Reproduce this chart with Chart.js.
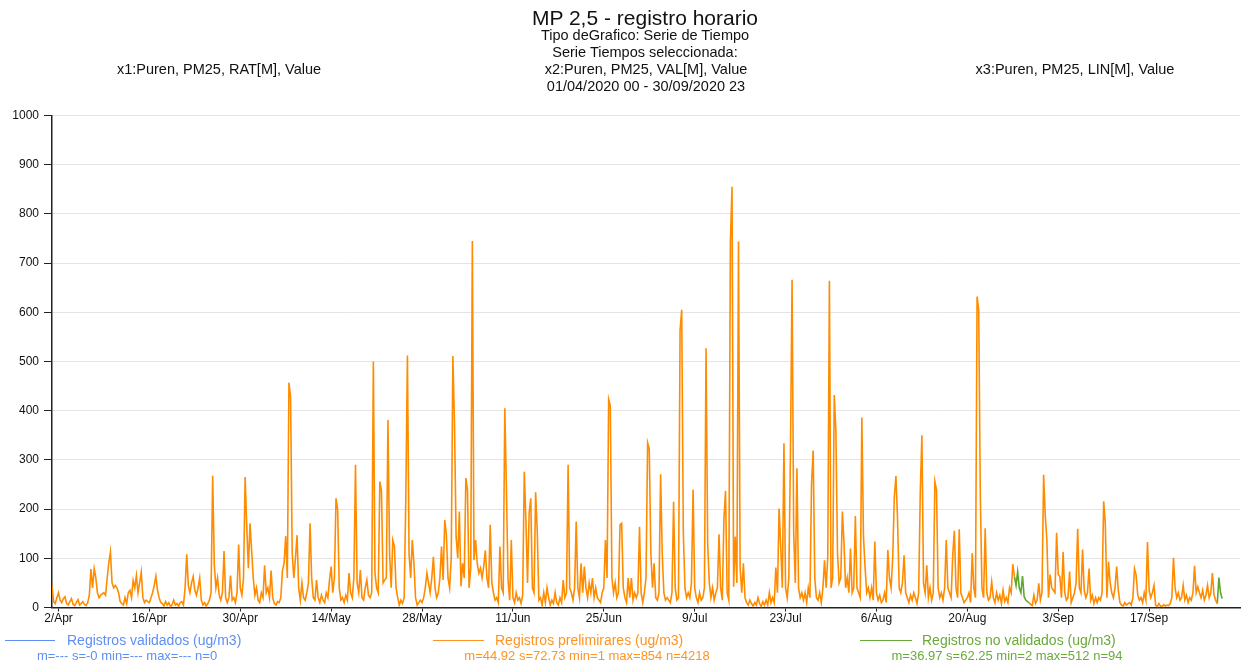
<!DOCTYPE html>
<html>
<head>
<meta charset="utf-8">
<script src="https://cdn.jsdelivr.net/npm/chart.js@4.4.1/dist/chart.umd.min.js"></script>
<style>
  body { margin: 0; background: #fff; }
  #wrap { position: relative; width: 1246px; height: 662px; font-family: 'Liberation Sans', Arial, sans-serif; }
  canvas { position: absolute; left: 0; top: 0; }
  .t { position: absolute; white-space: nowrap; transform: translate(-50%, -50%); color: #111; font-size: 14.5px; }
  .lg { position: absolute; white-space: nowrap; transform: translateY(-50%); font-size: 14px; }
  .ln { position: absolute; height: 0; border-top: 1.5px solid; }
  .st { position: absolute; white-space: nowrap; transform: translate(-50%, -50%); font-size: 13px; }
</style>
</head>
<body>
<div id="wrap">
  <canvas id="pmChart" width="1246" height="662"></canvas>

  <div class="t" style="left:645px; top:18px; font-size:21px;">MP 2,5 - registro horario</div>
  <div class="t" style="left:645px; top:35px;">Tipo deGrafico: Serie de Tiempo</div>
  <div class="t" style="left:645px; top:52px;">Serie Tiempos seleccionada:</div>
  <div class="t" style="left:219px; top:69px;">x1:Puren, PM25, RAT[M], Value</div>
  <div class="t" style="left:646px; top:69px;">x2:Puren, PM25, VAL[M], Value</div>
  <div class="t" style="left:1075px; top:69px;">x3:Puren, PM25, LIN[M], Value</div>
  <div class="t" style="left:646px; top:86px;">01/04/2020 00 - 30/09/2020 23</div>

  <div class="ln" style="left:5px; top:640px; width:50px; color:#5f8ff5;"></div>
  <div class="lg" style="left:67px; top:640px; color:#5f8ff5;">Registros validados (ug/m3)</div>
  <div class="st" style="left:127px; top:655px; color:#5f8ff5;">m=--- s=-0 min=--- max=--- n=0</div>

  <div class="ln" style="left:433px; top:640px; width:51px; color:#ff9422;"></div>
  <div class="lg" style="left:495px; top:640px; color:#ff9422;">Registros prelimirares (ug/m3)</div>
  <div class="st" style="left:587px; top:655px; color:#ff9422;">m=44.92 s=72.73 min=1 max=854 n=4218</div>

  <div class="ln" style="left:860px; top:640px; width:52px; color:#6aaa3a;"></div>
  <div class="lg" style="left:922px; top:640px; color:#6aaa3a;">Registros no validados (ug/m3)</div>
  <div class="st" style="left:1007px; top:655px; color:#6aaa3a;">m=36.97 s=62.25 min=2 max=512 n=94</div>
</div>

<script>
// MP 2,5 Puren, 01/04/2020 - 30/09/2020, every 6 hours (00, 06, 12, 18)
const rangeStart = '2020-04-01';
const rangeEnd = '2020-10-01';
const stepHours = 6;

const tickDates = ['2020-04-02', '2020-04-16', '2020-04-30', '2020-05-14', '2020-05-28', '2020-06-11',
    '2020-06-25', '2020-07-09', '2020-07-23', '2020-08-06', '2020-08-20', '2020-09-03', '2020-09-17'];
const tickLabels = ['2/Apr', '16/Apr', '30/Apr', '14/May', '28/May', '11/Jun',
    '25/Jun', '9/Jul', '23/Jul', '6/Aug', '20/Aug', '3/Sep', '17/Sep'];

// Registros preliminares (orange)
const aprValues = [
    45, 12, 8, 20,   30, 15, 10, 18,   22, 8, 5, 12,   18, 6, 4, 10,   16, 5, 8, 12,   6, 4, 10, 25,   78, 40, 79, 60,
    30, 20, 25, 28,  30, 25, 60, 91,   113, 50, 40, 45, 40, 30, 12, 8,  5, 20, 8, 30,   35, 20, 55, 40, 65, 30, 50, 72,
    20, 10, 15, 12,  10, 20, 30, 45,   64, 35, 20, 10,  8, 3, 12, 5,    10, 2, 6, 15,   5, 8, 3, 10,    12, 5, 40, 108,
    45, 30, 50, 63,  35, 25, 40, 60,   15, 5, 10, 3,    8, 15, 30, 268, 87, 40, 60, 25, 15, 30, 115, 20, 10, 20, 65, 15,
    20, 10, 30, 128, 40, 25, 60, 265
];
const mayValues = [
    164, 80, 171, 116, 60, 25, 40, 15,  10, 30, 20, 86,   30, 40, 20, 75,   20, 8, 5, 12,    10, 20, 75, 90,
    145, 60, 457, 427, 110, 60, 100, 147, 40, 15, 50, 20, 15, 30, 50, 171,  60, 20, 15, 56,  20, 10, 25, 15,
    10, 30, 20, 56,   83, 30, 60, 222,  199, 40, 15, 20,  10, 25, 15, 70,   30, 20, 60, 290, 50, 30, 76, 20,
    15, 40, 56, 25,   20, 30, 500, 70,  40, 30, 256, 237, 50, 56, 60, 381,  110, 40, 137, 124, 40, 20, 5, 15,
    8, 20, 222, 512,  110, 60, 137, 90, 20, 5, 10, 15,    10, 20, 40, 70,   50, 30, 60, 103, 40, 20, 30, 60,
    124, 56, 178, 148
];
const junValues = [
    60, 40, 100, 511, 374, 144, 100, 195, 43, 90, 60, 263, 239, 40, 80, 745, 96, 137, 90, 70, 80, 60, 83, 116,
    60, 40, 168, 50,  30, 15, 20, 10,     124, 40, 30, 405, 242, 56, 15, 137, 20, 10, 30, 15,  20, 8, 25, 276,
    178, 50, 192, 222, 40, 30, 234, 154,  15, 20, 5, 30,   10, 40, 20, 5,    15, 8, 30, 10,   5, 20, 10, 56,
    20, 30, 290, 40,  30, 15, 40, 175,    40, 20, 90, 30,  83, 40, 20, 50,   30, 60, 20, 40,  20, 15, 10, 30,
    40, 137, 60, 423, 410, 60, 30, 50,    20, 30, 168, 171, 40, 20, 10, 60,  20, 60, 15, 30,  20, 30, 164, 30
];
const julValues = [
    10, 30, 60, 335,  323, 110, 40, 90,  20, 15, 30, 271,  110, 30, 15, 20,  15, 10, 30, 215, 40, 15, 20, 564,
    605, 151, 40, 20, 30, 20, 50, 240,   40, 20, 10, 30,   15, 20, 40, 527,  130, 50, 20, 40, 15, 30, 40, 149,
    40, 15, 178, 237, 30, 15, 744, 855,  42, 144, 50, 744, 80, 30, 90, 20,   10, 5, 15, 8,    3, 10, 5, 20,
    8, 2, 12, 5,      15, 5, 30, 10,     20, 10, 81, 30,   201, 125, 40, 334, 40, 20, 60, 313, 666, 151, 50, 283,
    40, 20, 30, 15,   30, 10, 40, 20,    252, 319, 60, 20, 15, 30, 10, 40,   96, 40, 103, 664, 40, 60, 432, 358,
    110, 50, 60, 195
];
const augValues = [
    131, 40, 60, 30,  120, 30, 40, 186,  40, 30, 20, 386,  144, 80, 30, 40,  20, 40, 15, 134, 30, 15, 25, 10,
    15, 30, 10, 117,  60, 40, 100, 225,  267, 178, 40, 30, 50, 106, 30, 20,  10, 25, 15, 30,  20, 8, 30, 235,
    350, 50, 30, 86,  20, 40, 15, 30,    256, 239, 40, 20, 30, 15, 40, 137,  40, 30, 20, 107, 156, 40, 20, 159,
    30, 20, 10, 15,   20, 30, 10, 110,   40, 20, 632, 605, 226, 40, 20, 161, 30, 15, 20, 52,  20, 10, 30, 15,
    25, 8, 35, 12,    20, 10, 40, 30,    88, 63, null, null, null, null, null, null, null, null, 10, 6,
    4, 25, 8, 15,     49, 15, 30, 270
];
const sepValues = [
    187, 137, 20, 67, 40, 35, 30, 152,   67, 63, 20, 113,  30, 15, 20, 73,   10, 20, 30, 50,  160, 40, 30, 118,
    35, 20, 30, 79,   15, 25, 8, 20,     10, 20, 15, 30,   216, 171, 20, 93, 50, 30, 20, 40,  83, 35, 10, 5,
    3, 10, 5, 8,      10, 5, 20, 79,     66, 25, 15, 20,   10, 30, 15, 133,  35, 20, 30, 45,  5, 2, 8, 3,
    2, 6, 3, 5,       4, 8, 20, 101,     40, 20, 30, 15,   20, 45, 15, 25,   10, 20, 15, 30,  85, 30, 42, 30,
    20, 35, 15, 25,   45, 20, 30, 70,    25, 15, 8, null,  null, null, null, null, null, null, null, null,
    null, null, null, null
];

// Registros no validados (green)
const noValidAugStart = '2020-08-27 06:00';
const noValidAugValues = [63, 45, 73, 40, 30, 64, 22, 15, 12, 10];
const noValidSepStart = '2020-09-27 12:00';
const noValidSepValues = [8, 61, 30, 18];

// Registros validados (blue) - no data
const validValues = [];

function hoursFrom(s) {
    const t = s.length === 10 ? s + 'T00:00:00Z' : s.replace(' ', 'T') + ':00Z';
    return (Date.parse(t) - Date.parse(rangeStart + 'T00:00:00Z')) / 3600000;
}

function toPoints(values, startHour) {
    return values.map((v, i) => ({ x: startHour + i * stepHours, y: v }));
}

const prelimValues = [].concat(aprValues, mayValues, junValues, julValues, augValues, sepValues);

buildChart();

function buildChart() {
    const ctx = document.getElementById('pmChart');
    new Chart(ctx, {
        type: 'line',
        data: {
            datasets: [
                {
                    label: 'Registros validados (ug/m3)',
                    data: toPoints(validValues, 0),
                    borderColor: '#5f8ff5',
                    borderWidth: 1.6
                },
                {
                    label: 'Registros prelimirares (ug/m3)',
                    data: toPoints(prelimValues, 0),
                    borderColor: '#ff8c00',
                    borderWidth: 1.6
                },
                {
                    label: 'Registros no validados (ug/m3)',
                    data: toPoints(noValidAugValues, hoursFrom(noValidAugStart))
                        .concat([{ x: hoursFrom(noValidAugStart) + 200, y: null }])
                        .concat(toPoints(noValidSepValues, hoursFrom(noValidSepStart))),
                    borderColor: '#5fa830',
                    borderWidth: 1.6
                }
            ]
        },
        options: {
            responsive: false,
            animation: false,
            spanGaps: false,
            elements: {
                point: { radius: 0 },
                line: { tension: 0 }
            },
            layout: {
                padding: { top: 115.5, right: 6, left: 0, bottom: 0 }
            },
            scales: {
                x: {
                    type: 'linear',
                    min: 0,
                    max: hoursFrom(rangeEnd),
                    afterBuildTicks: (scale) => {
                        scale.ticks = tickDates.map(d => ({ value: hoursFrom(d) }));
                    },
                    afterFit: (scale) => { scale.height = 54.5; },
                    grid: {
                        drawOnChartArea: false,
                        tickLength: 4,
                        tickColor: '#222'
                    },
                    border: { color: '#222', width: 1.5 },
                    ticks: {
                        autoSkip: false,
                        maxRotation: 0,
                        padding: 0,
                        color: '#111',
                        font: { family: 'Liberation Sans', size: 12 },
                        callback: (value, index) => tickLabels[index]
                    }
                },
                y: {
                    min: 0,
                    max: 1000,
                    afterFit: (scale) => { scale.width = 52; },
                    grid: {
                        color: '#e4e4e4',
                        tickLength: 8,
                        tickColor: '#222'
                    },
                    border: { color: '#222', width: 1.5 },
                    ticks: {
                        stepSize: 100,
                        padding: 5,
                        color: '#111',
                        font: { family: 'Liberation Sans', size: 12 },
                        callback: (value) => String(value)
                    }
                }
            },
            plugins: {
                legend: { display: false },
                tooltip: { enabled: false },
                title: { display: false }
            }
        }
    });
}
</script>
</body>
</html>
